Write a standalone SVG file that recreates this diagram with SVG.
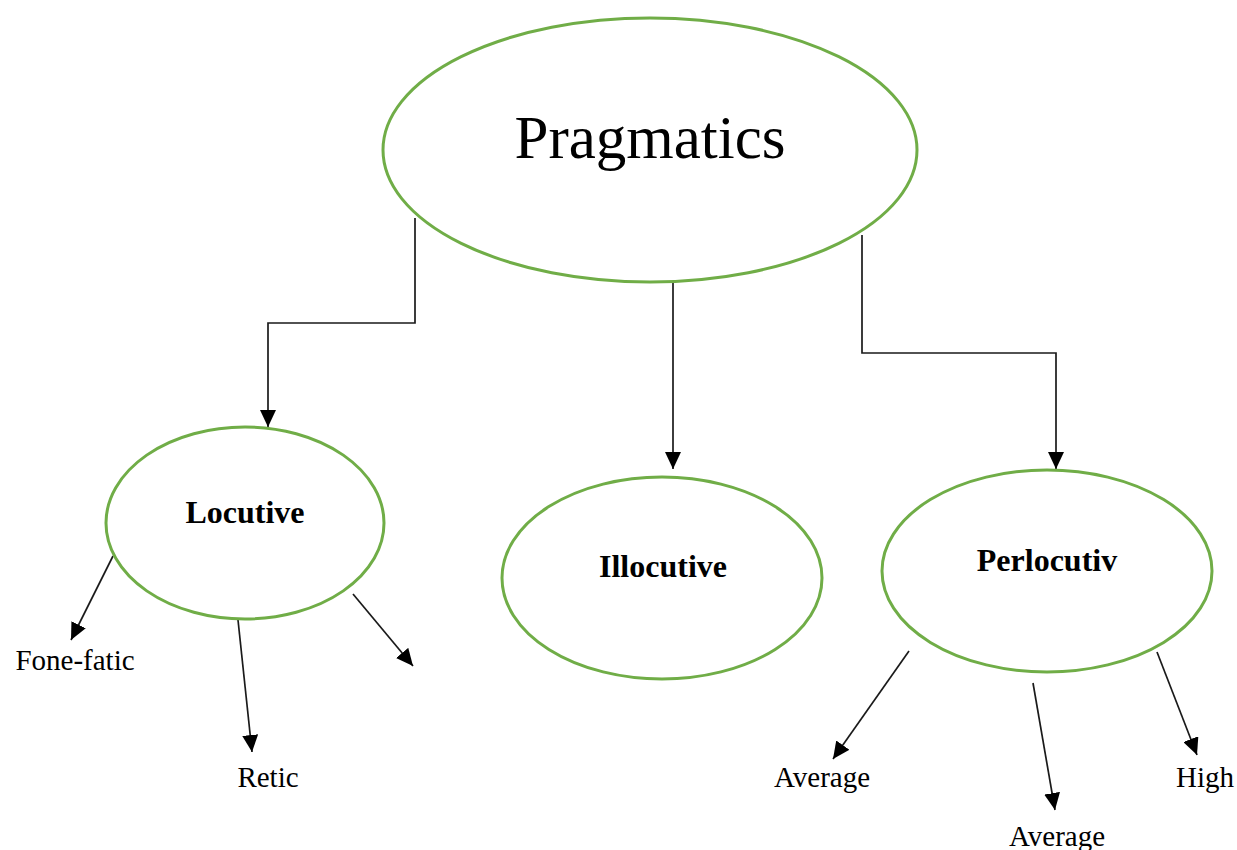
<svg xmlns="http://www.w3.org/2000/svg" width="1237" height="850" viewBox="0 0 1237 850">
<style>
.node{fill:#fff;stroke:#70AD47;stroke-width:3}
.conn{fill:none;stroke:#1a1a1a;stroke-width:1.7;marker-end:url(#arr)}
.t{font-family:"Liberation Serif","Times New Roman",serif;fill:#000;text-anchor:middle}
.b{font-weight:bold;font-size:32px}
.s{font-size:29px}
</style>
<defs>
<marker id="arr" viewBox="0 0 17 16" refX="17" refY="8" markerWidth="17" markerHeight="16" markerUnits="userSpaceOnUse" orient="auto">
<path d="M0,0 L17,8 L0,16 z" fill="#000"/>
</marker>
</defs>
<rect width="1237" height="850" fill="#fff"/>
<g id="connectors">
<path class="conn" d="M415,218 V323 H268 V427"/>
<path class="conn" d="M673,282 V469"/>
<path class="conn" d="M862,235 V353 H1056 V469"/>
<path class="conn" d="M113,556 L71,640"/>
<path class="conn" d="M238,620 L252,752"/>
<path class="conn" d="M353,594 L413,666"/>
<path class="conn" d="M909,651 L833,759"/>
<path class="conn" d="M1033,683 L1055,810"/>
<path class="conn" d="M1157,652 L1197,755"/>
</g>
<g id="pragmatics">
<ellipse class="node" cx="650" cy="150" rx="267" ry="132"/>
<text class="t" x="650" y="158" font-size="61">Pragmatics</text>
</g>
<g id="locutive">
<ellipse class="node" cx="245" cy="523" rx="139" ry="96"/>
<text class="t b" x="245" y="523">Locutive</text>
</g>
<g id="illocutive">
<ellipse class="node" cx="662" cy="578" rx="160" ry="101"/>
<text class="t b" x="663" y="577">Illocutive</text>
</g>
<g id="perlocutiv">
<ellipse class="node" cx="1047" cy="571" rx="165" ry="101"/>
<text class="t b" x="1047" y="571">Perlocutiv</text>
</g>
<g id="fone-fatic"><text class="t s" x="75" y="670">Fone-fatic</text></g>
<g id="retic"><text class="t s" x="268" y="787">Retic</text></g>
<g id="average1"><text class="t s" x="822" y="787">Average</text></g>
<g id="average2"><text class="t s" x="1057" y="846">Average</text></g>
<g id="high"><text class="t s" x="1205" y="787">High</text></g>
</svg>
